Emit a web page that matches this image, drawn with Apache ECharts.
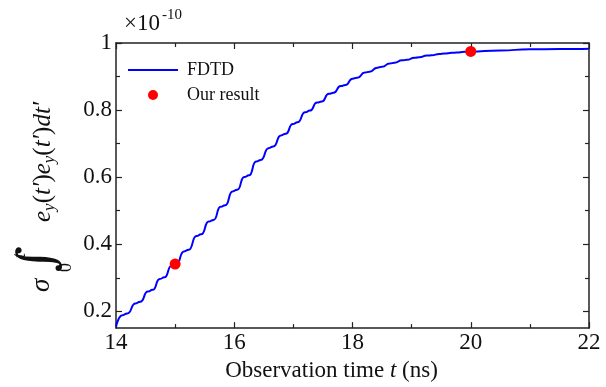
<!DOCTYPE html>
<html>
<head>
<meta charset="utf-8">
<script src="https://cdn.jsdelivr.net/npm/echarts@6/dist/echarts.min.js"></script>
<style>
html,body{margin:0;padding:0;background:#fff;}
#chart{width:606px;height:387px;}
</style>
</head>
<body>
<div id="chart"></div>
<script>
// FDTD curve (t in ns, value in units of 1e-10)
var fdtdT = [14.00,14.11,14.19,14.33,14.41,14.54,14.62,14.74,14.82,14.94,15.02,15.15,15.23,15.36,15.44,15.57,15.65,15.77,15.85,15.97,16.05,16.17,16.25,16.37,16.45,16.58,16.66,16.79,16.87,16.99,17.07,17.20,17.28,17.40,17.48,17.60,17.68,17.80,17.88,18.00,18.08,18.21,18.29,18.42,18.50,18.63,18.71,18.84,18.92,19.05,19.13,19.26,19.34,19.47,19.55,19.68,19.76,19.89,19.97,20.5,21.0,21.5,22.0];
var fdtdY = [0.155,0.1885,0.1935,0.2235,0.2285,0.259,0.264,0.2965,0.3015,0.336,0.341,0.3785,0.3835,0.4245,0.4295,0.4675,0.4725,0.5115,0.5165,0.5575,0.5625,0.6005,0.6055,0.6465,0.6515,0.6865,0.6915,0.7245,0.7295,0.7585,0.7635,0.7935,0.7985,0.8225,0.8255,0.8485,0.8515,0.8715,0.8745,0.8935,0.8965,0.9118,0.9142,0.9265,0.9295,0.9388,0.9412,0.9482,0.9498,0.9562,0.9578,0.9624,0.9636,0.9674,0.9686,0.9707,0.9716,0.9737,0.9746,0.978,0.981,0.982,0.983];
// Our result points
var oursT = [15, 20];
var oursY = [0.341, 0.975];
// Axis ticks
var yMajor = [0.2, 0.4, 0.6, 0.8, 1.0];
var yMinor = [0.3, 0.5, 0.7, 0.9];

var fdtdData = fdtdT.map(function(t, i){ return [t, fdtdY[i]]; });
var oursData = oursT.map(function(t, i){ return [t, oursY[i]]; });

var FONT = 'Liberation Serif';
var AX = '#222';

var chart = echarts.init(document.getElementById('chart'), null, {renderer:'canvas'});
function yAx(pos, custom, len, showLabel, showLine){
  return {
    type:'value', position:pos, min:0.15, max:1.0,
    axisLine:{show:showLine, lineStyle:{color:AX, width:1.5}},
    axisTick:{show:true, inside:true, length:len, customValues:custom, lineStyle:{color:AX, width:1.2}},
    axisLabel:{show:showLabel, customValues:custom, margin:4, color:'#111', fontFamily:FONT, fontSize:23},
    splitLine:{show:false}
  };
}
function xAx(pos, showLabel){
  return {
    type:'value', position:pos, min:14, max:22, interval:2,
    axisLine:{show:true, onZero:false, lineStyle:{color:AX, width:1.5}},
    axisTick:{show:true, inside:true, length:6, lineStyle:{color:AX, width:1.2}},
    minorTick:{show:true, splitNumber:2, length:4, lineStyle:{color:AX, width:1.2}},
    axisLabel:{show:showLabel, margin:3, color:'#111', fontFamily:FONT, fontSize:23},
    splitLine:{show:false}
  };
}
var xBottom = xAx('bottom', true);
xBottom.name = 'Observation time {i|t} (ns)';
xBottom.nameLocation = 'middle';
xBottom.nameGap = 29;
xBottom.nameTextStyle = {color:'#111', fontFamily:FONT, fontSize:23, padding:[0,42,0,0],
  rich:{i:{fontFamily:FONT, fontSize:23, fontStyle:'italic', color:'#111'}}};

var option = {
  animation:false,
  backgroundColor:'#fff',
  grid:{left:116, right:17, top:43, bottom:48},
  xAxis:[xBottom, xAx('top', false)],
  yAxis:[
    yAx('left', yMajor, 6, true, true),
    yAx('left', yMinor, 4, false, false),
    yAx('right', yMajor, 6, false, true),
    yAx('right', yMinor, 4, false, false)
  ],
  legend:{
    orient:'vertical', left:123, top:56, itemWidth:50, itemHeight:10, itemGap:7,
    symbolKeepAspect:true,
    textStyle:{fontFamily:FONT, fontSize:18, color:'#111', lineHeight:17, padding:[0,0,0,4]},
    data:[
      {name:'FDTD', icon:'path://M0,0L100,0L100,4L0,4Z', itemStyle:{color:'#0000ff'}},
      {name:'Our result'}
    ]
  },
  series:[
    {name:'FDTD', type:'line', data:fdtdData, showSymbol:false, symbol:'none', smooth:0.6, smoothMonotone:'x',
     lineStyle:{color:'#0000ff', width:2}, itemStyle:{color:'#0000ff'}, z:2},
    {name:'Our result', type:'scatter', data:oursData, symbol:'circle', symbolSize:11,
     itemStyle:{color:'#ff0000', opacity:1}, z:3}
  ],
  graphic:[
    {type:'text', left:124, top:12, style:{text:'\u00d710', fontFamily:FONT, fontSize:23, fill:'#111'}},
    {type:'text', left:162, top:8, style:{text:'-10', fontFamily:FONT, fontSize:15, fill:'#111'}},
    {type:'group', x:0, y:292, rotation:Math.PI/2, children:[
      {type:'text', x:0, y:42, style:{text:'\u03c3', fontFamily:FONT, fontStyle:'italic', fontSize:27, fill:'#111', align:'left', verticalAlign:'middle'}},
      {type:'text', x:20, y:40, style:{text:'\u222b', fontFamily:'DejaVu Serif', fontSize:50, fill:'#111', align:'left', verticalAlign:'middle'}},
      {type:'text', x:34, y:20, style:{text:'t', fontFamily:FONT, fontStyle:'italic', fontSize:18, fill:'#111', align:'left', verticalAlign:'middle'}},
      {type:'text', x:20, y:66, style:{text:'0', fontFamily:FONT, fontSize:18, fill:'#111', align:'left', verticalAlign:'middle'}},
      {type:'text', x:70, y:43, style:{
        text:'{i|e}{s|y}{r|(}{i|t\u2032}{r|)}{i|e}{s|y}{r|(}{i|t\u2032}{r|)}{i|dt\u2032}',
        align:'left', verticalAlign:'middle',
        rich:{
          i:{fontFamily:FONT, fontStyle:'italic', fontSize:25, fill:'#111', lineHeight:30},
          r:{fontFamily:FONT, fontSize:25, fill:'#111', lineHeight:30},
          s:{fontFamily:FONT, fontStyle:'italic', fontSize:17, fill:'#111', lineHeight:18, verticalAlign:'bottom'}
        }}}
    ]}
  ]
};
chart.setOption(option);
</script>
</body>
</html>
